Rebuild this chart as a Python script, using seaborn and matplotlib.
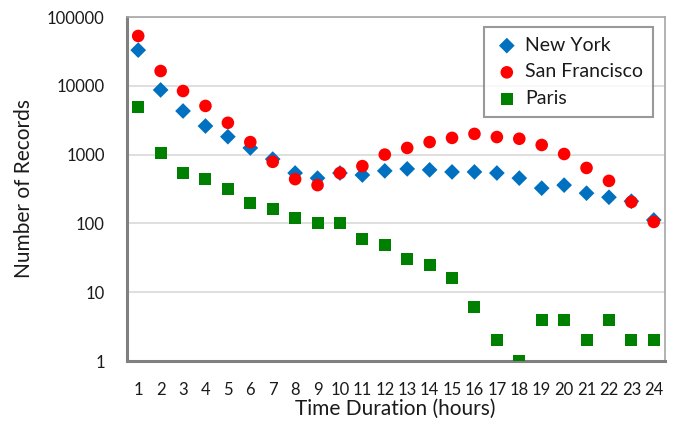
import matplotlib
matplotlib.use("Agg")
import matplotlib.pyplot as plt
from matplotlib.ticker import FixedLocator, NullFormatter, FixedFormatter
import seaborn as sns
import pandas as pd
import numpy as np

hours = list(range(1, 25))
new_york = [33000, 8700, 4300, 2600, 1820, 1250, 860, 540, 455, 540, 505, 580,
            620, 600, 560, 560, 540, 455, 325, 360, 275, 240, 210, 112]
san_francisco = [53000, 16400, 8400, 5100, 2900, 1520, 785, 440, 360, 540, 680, 1000,
                 1250, 1520, 1750, 2000, 1800, 1700, 1380, 1020, 640, 415, 205, 105]
paris = [4900, 1050, 540, 440, 315, 200, 162, 120, 100, 100, 59, 49,
         30, 25, 16, 6.1, 2, 1, 4, 4, 2, 4, 2, 2]
y_ticks = [1, 10, 100, 1000, 10000, 100000]
y_tick_labels = ["1", "10", "100", "1000", "10000", "100000"]

sns.set_style("white")
plt.rcParams['font.family'] = ['Lato', 'DejaVu Sans']

fig = plt.figure(figsize=(6.75, 4.21), dpi=100)
ax = fig.add_axes([127/675, 1-361/421, (665-127)/675, (361-17)/421])

df = pd.DataFrame({"hour": hours, "New York": new_york,
                   "San Francisco": san_francisco, "Paris": paris})

sns.scatterplot(data=df, x="hour", y="New York", marker="D", s=64, color="#0070C0",
                edgecolor="none", label="New York", ax=ax, zorder=3)
sns.scatterplot(data=df, x="hour", y="San Francisco", marker="o", s=82, color="#FF0000",
                edgecolor="none", label="San Francisco", ax=ax, zorder=4)
sns.scatterplot(data=df, x="hour", y="Paris", marker="s", s=75, color="#008000",
                edgecolor="none", label="Paris", ax=ax, zorder=3)

ax.set_yscale("log")
ax.set_ylim(1, 100000)
ax.set_xlim(0.5, 24.5)
ax.yaxis.set_major_locator(FixedLocator(y_ticks))
ax.yaxis.set_major_formatter(FixedFormatter(y_tick_labels))
ax.yaxis.set_minor_locator(FixedLocator([]))
ax.xaxis.set_major_locator(FixedLocator(hours))
ax.xaxis.set_major_formatter(FixedFormatter([str(h) for h in hours]))
ax.xaxis.set_minor_locator(FixedLocator(np.arange(0.5, 25, 1)))
ax.xaxis.set_minor_formatter(NullFormatter())

ax.grid(axis="y", color="#d9d9d9", linewidth=1.2, zorder=0)
ax.set_axisbelow(True)

for side in ["left", "bottom"]:
    ax.spines[side].set_color("#808080")
    ax.spines[side].set_linewidth(2.2)
for side in ["top", "right"]:
    ax.spines[side].set_color("#a6a6a6")
    ax.spines[side].set_linewidth(1.2)

ax.tick_params(axis="y", which="major", length=5, width=1.5, color="#808080",
               labelsize=12, labelcolor="#1a1a1a", pad=11)
ax.tick_params(axis="x", which="major", length=0, labelsize=12, labelcolor="#1a1a1a", pad=15)
ax.tick_params(axis="x", which="minor", length=5, width=1.5, color="#808080")

ax.set_xlabel("Time Duration (hours)", fontsize=15, color="#1a1a1a")
ax.set_ylabel("Number of Records", fontsize=15, color="#1a1a1a")
ax.xaxis.set_label_coords((395-127)/538, -(399-361)/344)
ax.yaxis.set_label_coords(-(127-34)/538, 0.5)

leg = ax.legend(loc="upper right", bbox_to_anchor=(653/675, 1-27/421),
                bbox_transform=fig.transFigure, frameon=True, fancybox=False,
                fontsize=14, handletextpad=0.3, borderpad=0.5, labelspacing=0.5,
                handlelength=1.3, borderaxespad=0)
leg.get_frame().set_edgecolor("#808080")
leg.get_frame().set_linewidth(1.5)
for t in leg.get_texts():
    t.set_color("#1a1a1a")

fig.savefig("out.png", dpi=100)
